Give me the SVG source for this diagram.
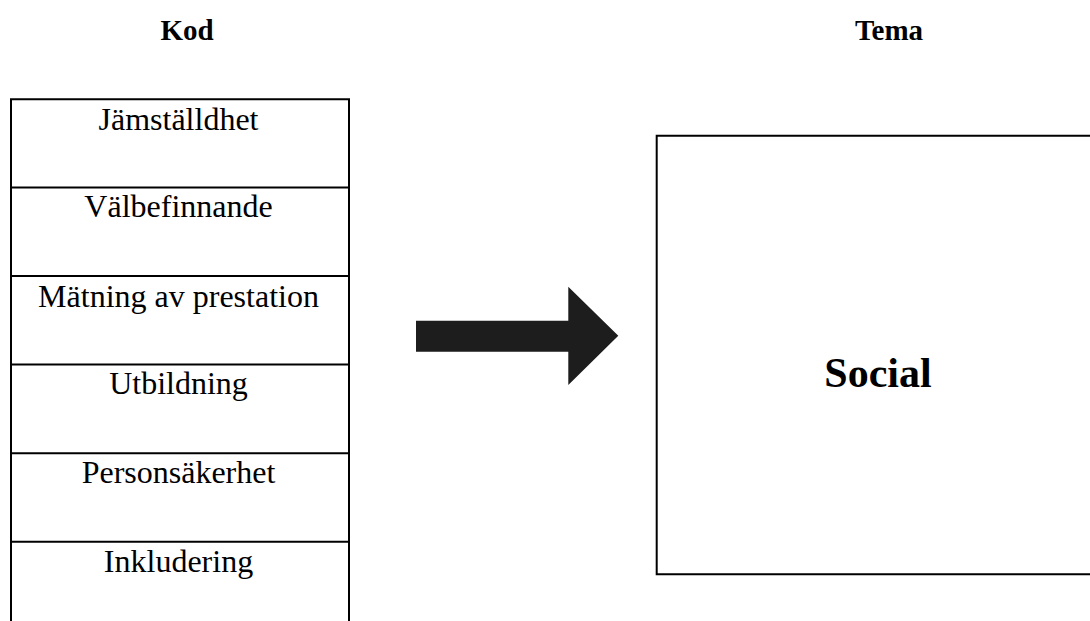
<svg xmlns="http://www.w3.org/2000/svg" width="1090" height="621" viewBox="0 0 1090 621">
<style>
.hdr{font-family:"Liberation Serif","Times New Roman",serif;font-weight:bold;font-size:29px;fill:#000;text-anchor:middle}
.cell{font-family:"Liberation Serif","Times New Roman",serif;font-size:32px;fill:#000;text-anchor:middle}
.big{font-family:"Liberation Serif","Times New Roman",serif;font-weight:bold;font-size:42px;fill:#000;text-anchor:middle}
.ln{stroke:#000;stroke-width:2;fill:none}
</style>
<rect width="1090" height="621" fill="#fff"/>
<g id="headers">
<text class="hdr" x="187" y="40">Kod</text>
<text class="hdr" x="889" y="40">Tema</text>
</g>
<g id="codes">
<path class="ln" d="M11 621 V99.3 H349 V621"/>
<g id="code1"><text class="cell" x="178.5" y="130">Jämställdhet</text></g>
<g id="code2"><line class="ln" x1="11" y1="187.5" x2="349" y2="187.5"/><text class="cell" x="178.5" y="217">Välbefinnande</text></g>
<g id="code3"><line class="ln" x1="11" y1="276" x2="349" y2="276"/><text class="cell" x="178.5" y="306.5">Mätning av prestation</text></g>
<g id="code4"><line class="ln" x1="11" y1="364.5" x2="349" y2="364.5"/><text class="cell" x="178.5" y="393.5">Utbildning</text></g>
<g id="code5"><line class="ln" x1="11" y1="453.3" x2="349" y2="453.3"/><text class="cell" x="178.5" y="483.3">Personsäkerhet</text></g>
<g id="code6"><line class="ln" x1="11" y1="541.8" x2="349" y2="541.8"/><text class="cell" x="178.5" y="571.7">Inkludering</text></g>
</g>
<g id="connectors">
<polygon points="416,320.7 568.3,320.7 568.3,286.7 618.3,335.7 568.3,385 568.3,351.7 416,351.7" fill="#1d1d1d"/>
</g>
<g id="theme">
<path class="ln" d="M1092 135.7 H656.7 V574.3 H1092"/>
<text class="big" x="878" y="387.3">Social</text>
</g>
</svg>
